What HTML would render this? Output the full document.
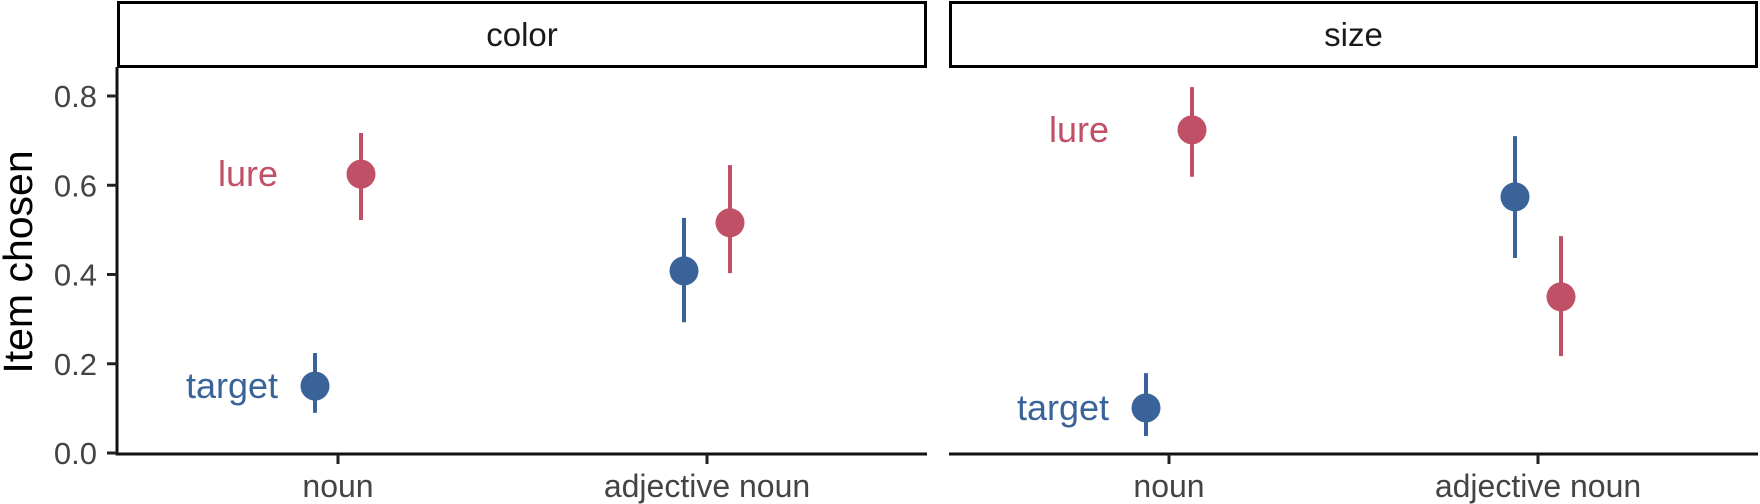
<!DOCTYPE html>
<html><head><meta charset="utf-8"><style>
html,body{margin:0;padding:0;background:#fff;}
svg{display:block;font-family:"Liberation Sans",Arial,sans-serif;}
</style></head><body>
<svg id="chart" width="1760" height="504" viewBox="0 0 1760 504" xmlns="http://www.w3.org/2000/svg"></svg>
<script>
const panels = ["color", "size"];
const categories = ["noun", "adjective noun"];
const yTicks = [0, 0.2, 0.4, 0.6, 0.8];
const yTickLabels = ["0.0", "0.2", "0.4", "0.6", "0.8"];
const targetMean = [[0.150, 0.408], [0.101, 0.574]];
const targetLow  = [[0.090, 0.293], [0.038, 0.437]];
const targetHigh = [[0.224, 0.527], [0.179, 0.710]];
const lureMean = [[0.625, 0.516], [0.724, 0.350]];
const lureLow  = [[0.522, 0.403], [0.619, 0.217]];
const lureHigh = [[0.717, 0.645], [0.820, 0.486]];

const NS = "http://www.w3.org/2000/svg";
const svg = document.getElementById("chart");
const BLUE = "#3A6399", RED = "#C05066";
const panelX = [[117, 927], [949, 1758]];
const catX = [[338, 707], [1169, 1538]];
const y0 = 453, yPerUnit = 446.25;
function yScale(v){ return y0 - v * yPerUnit; }
function xScale(p, c){ return catX[p][c]; }
function mk(tag, attrs, parent){
  const e = document.createElementNS(NS, tag);
  for (const k in attrs) e.setAttribute(k, attrs[k]);
  (parent || svg).appendChild(e);
  return e;
}

panels.forEach((name, p) => {
  const [x1, x2] = panelX[p];
  const g = mk("g", {});
  
  
  const strip = mk("rect", {x: x1 + 1.5, y: 2.5, width: x2 - x1 - 3, height: 64, fill: "#fff", stroke: "#000", "stroke-width": 3}, g);
  
  
  const st = mk("text", {x: (x1 + x2) / 2, y: 46, "text-anchor": "middle", "font-size": 33, fill: "#1a1a1a"}, g);
  st.textContent = name;
  
  
  const ax = mk("line", {x1: x1, x2: x2, y1: 454, y2: 454, stroke: "#111", "stroke-width": 3}, g);
  
  
  categories.forEach((c, ci) => {
    const cx = xScale(p, ci);
    const t = mk("line", {x1: cx, x2: cx, y1: 454, y2: 464, stroke: "#222", "stroke-width": 3}, g);
    
    
    const tl = mk("text", {x: cx, y: 497, "text-anchor": "middle", "font-size": 32, fill: "#444"}, g);
    tl.textContent = c;
    
    
    [[targetMean, targetLow, targetHigh, BLUE, -23, "target"], [lureMean, lureLow, lureHigh, RED, 23, "lure"]].forEach(s => {
      const [m, lo, hi, col, dx, sn] = s;
      const px = cx + dx;
      const eb = mk("line", {x1: px, x2: px, y1: yScale(lo[p][ci]), y2: yScale(hi[p][ci]), stroke: col, "stroke-width": 4}, g);
      
      
      const dot = mk("circle", {cx: px, cy: yScale(m[p][ci]), r: 14.5, fill: col}, g);
      
      
      if (ci === 0) {
        const lab = mk("text", {x: cx - 60, y: yScale(m[p][ci]) + 12, "text-anchor": "end", "font-size": 36, fill: col}, g);
        lab.textContent = sn;
        
        
      }
    });
  });
  if (p === 0) {
    const yl = mk("line", {x1: x1, x2: x1, y1: 67, y2: 455.5, stroke: "#111", "stroke-width": 3}, g);
    
    
    yTicks.forEach((v, i) => {
      const yy = yScale(v);
      const t = mk("line", {x1: x1 - 10, x2: x1, y1: yy, y2: yy, stroke: "#222", "stroke-width": 3}, g);
      
      
      const tl = mk("text", {x: 97, y: yy + 11, "text-anchor": "end", "font-size": 31, fill: "#444"}, g);
      tl.textContent = yTickLabels[i];
      
      
    });
  }
});
const yt = mk("text", {x: 0, y: 0, "text-anchor": "middle", "font-size": 41, fill: "#000", transform: "translate(32,262) rotate(-90)"});
yt.textContent = "Item chosen";


</script>
</body></html>
